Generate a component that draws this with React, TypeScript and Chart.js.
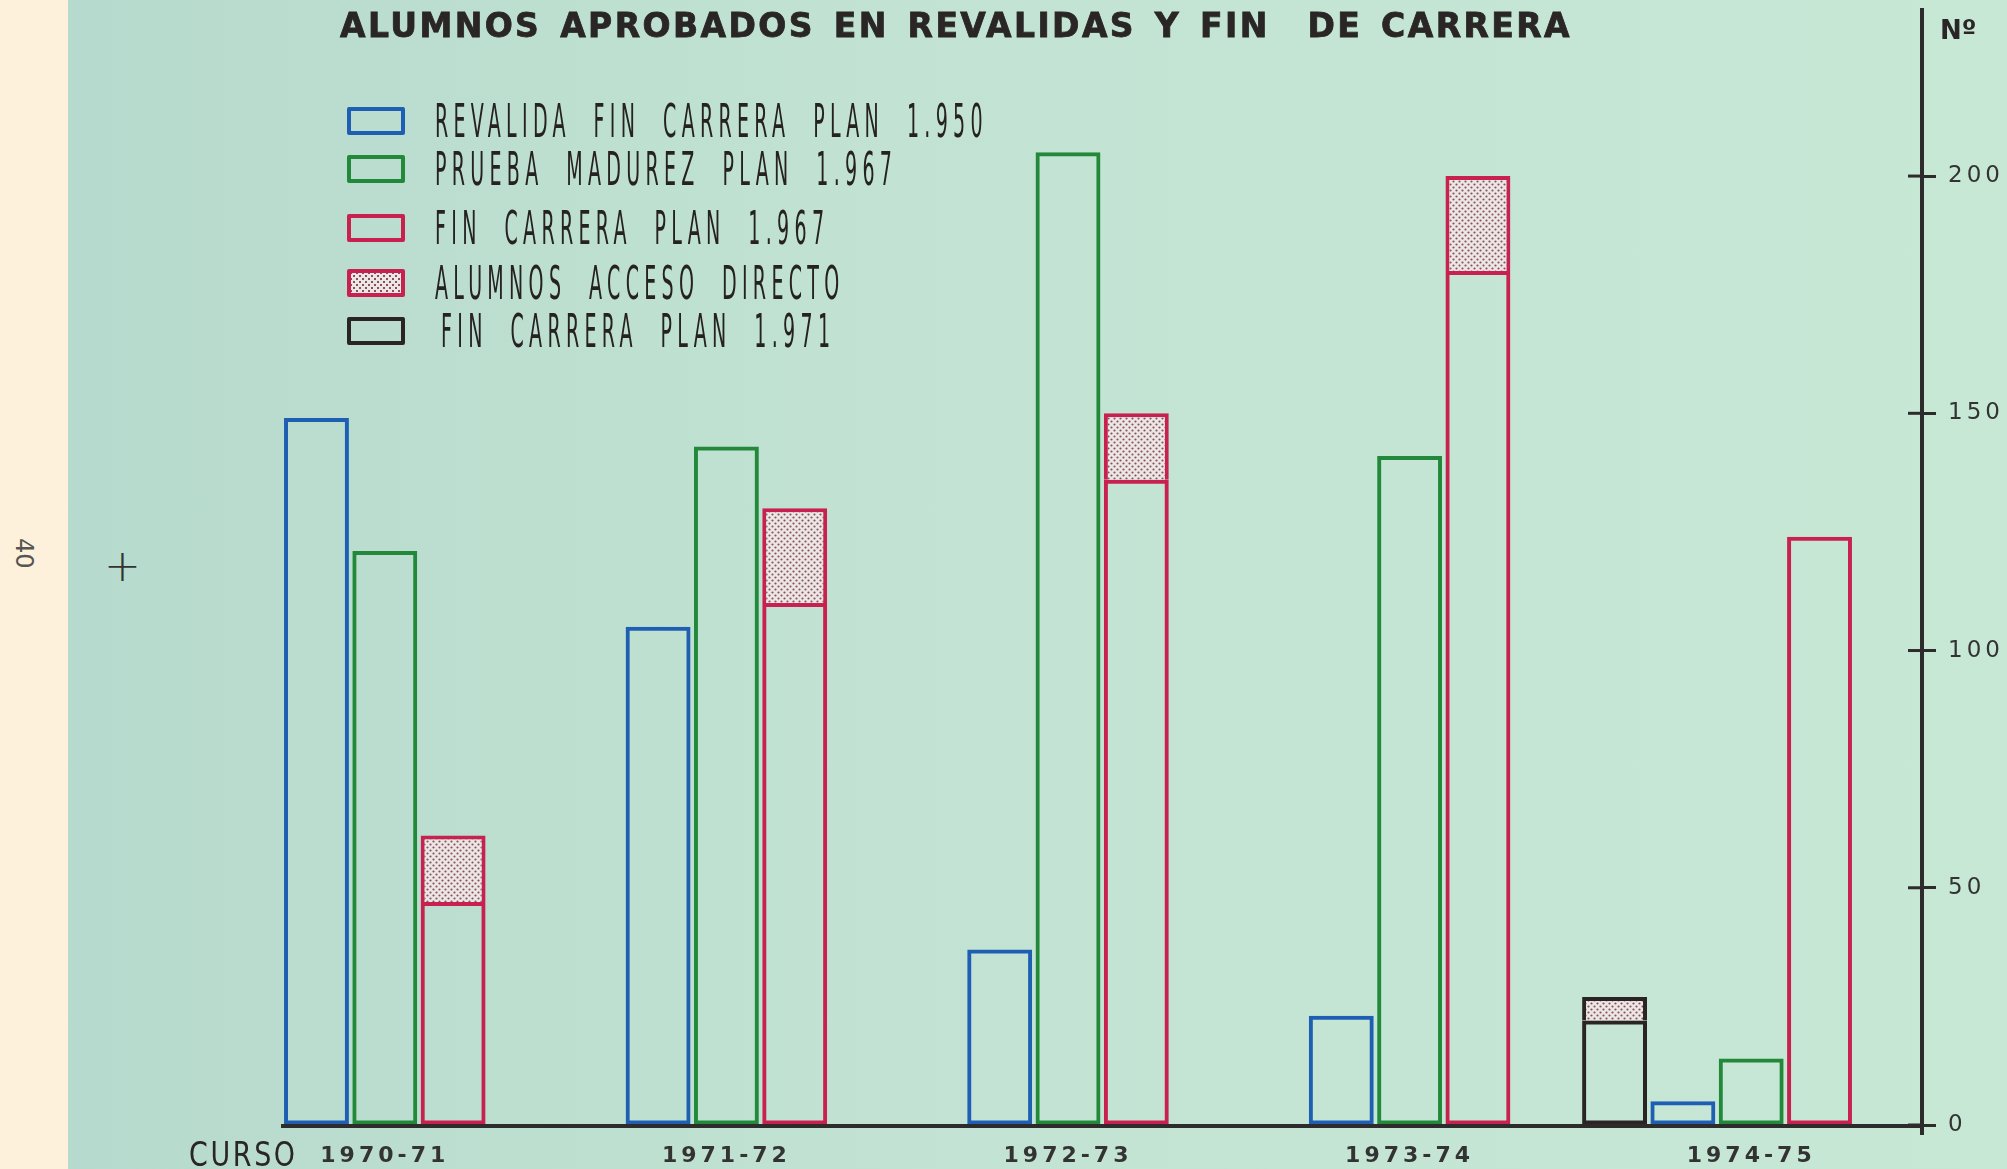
import React, { useEffect, useRef } from "react";
import { Chart, registerables } from "chart.js";

Chart.register(...registerables);

// ---------- data ----------
const categories = ["1970-71", "1971-72", "1972-73", "1973-74", "1974-75"];
const revalidaPlan1950 = [149, 105, 37, 23, 5];
const madurezPlan1967 = [121, 143, 205, 141, 14];
const finCarreraPlan1967 = [47, 110, 136, 180, 124];
const accesoDirecto1967 = [14, 20, 14, 20, null];
const finCarreraPlan1971 = [null, null, null, null, 22];
const accesoDirecto1971 = [null, null, null, null, 5];
const spacerSlot = [null, null, null, null, null];
const yTickValues = [0, 50, 100, 150, 200];

const legendLabels = [
  "REVALIDA FIN CARRERA PLAN 1.950",
  "PRUEBA MADUREZ PLAN 1.967",
  "FIN CARRERA PLAN 1.967",
  "ALUMNOS ACCESO DIRECTO",
  "FIN CARRERA PLAN 1.971",
];

const title = "ALUMNOS APROBADOS EN REVALIDAS Y FIN  DE CARRERA";

// ---------- styles ----------
const BLUE = "#1f5fb3";
const GREEN = "#22893a";
const RED = "#c8204f";
const BLACK = "#2b2424";
const AXIS = "#2d2b2b";
const legendColors = [BLUE, GREEN, RED, RED, BLACK];
const legendRowTops = [0, 48, 107, 162, 210];

function makePattern(): CanvasPattern | string {
  const c = document.createElement("canvas");
  c.width = 6;
  c.height = 6;
  const g = c.getContext("2d");
  if (!g) return "#ddd";
  g.fillStyle = "#ebe7e5";
  g.fillRect(0, 0, 6, 6);
  g.fillStyle = "#8c4d5e";
  g.beginPath();
  g.arc(1.5, 1.5, 1.1, 0, Math.PI * 2);
  g.arc(4.5, 4.5, 1.1, 0, Math.PI * 2);
  g.fill();
  const p = g.createPattern(c, "repeat");
  return p || "#ddd";
}

const cssPattern =
  "radial-gradient(circle, #8c4d5e 1.1px, transparent 1.5px) 0 0/6px 6px, radial-gradient(circle, #8c4d5e 1.1px, transparent 1.5px) 3px 3px/6px 6px, #ebe7e5";

const spacingPlugin = {
  id: "letterSpacing",
  beforeDraw(chart: any) {
    (chart.ctx as any).letterSpacing = "4px";
  },
  afterDraw(chart: any) {
    const ctx = chart.ctx;
    const area = chart.chartArea;
    const y = chart.scales.y;
    ctx.save();
    ctx.strokeStyle = AXIS;
    ctx.lineWidth = 3;
    y.ticks.forEach((t: any) => {
      const py = y.getPixelForValue(t.value);
      ctx.beginPath();
      ctx.moveTo(area.right - 14, py);
      ctx.lineTo(area.right, py);
      ctx.stroke();
    });
    const meta = chart.getDatasetMeta(1);
    const first = meta.data[0] as any;
    const startX = first ? first.x - first.width / 2 - 3 : area.left;
    const py0 = y.getPixelForValue(0);
    ctx.lineWidth = 4;
    ctx.beginPath();
    ctx.moveTo(startX, py0 + 1);
    ctx.lineTo(area.right, py0 + 1);
    ctx.stroke();
    ctx.beginPath();
    ctx.moveTo(area.right, py0);
    ctx.lineTo(area.right, py0 + 10);
    ctx.stroke();
    ctx.restore();
    (ctx as any).letterSpacing = "0px";
  },
};

export default function App() {
  const canvasRef = useRef<HTMLCanvasElement | null>(null);

  useEffect(() => {
    if (!canvasRef.current) return;
    const pattern = makePattern();
    const common = {
      backgroundColor: "rgba(0,0,0,0)",
      borderWidth: 4,
      borderSkipped: false as any,
      barPercentage: 0.95,
      categoryPercentage: 1,
    };
    const chart = new Chart(canvasRef.current, {
      type: "bar",
      data: {
        labels: categories,
        datasets: [
          { ...common, label: legendLabels[4], data: finCarreraPlan1971, borderColor: BLACK, stack: "a" },
          { ...common, label: legendLabels[0], data: revalidaPlan1950, borderColor: BLUE, stack: "b" },
          { ...common, label: legendLabels[1], data: madurezPlan1967, borderColor: GREEN, stack: "c" },
          { ...common, label: legendLabels[2], data: finCarreraPlan1967, borderColor: RED, stack: "d" },
          { ...common, label: legendLabels[3], data: accesoDirecto1967, borderColor: RED, backgroundColor: pattern as any, borderSkipped: "start", stack: "d" },
          { ...common, label: legendLabels[3] + " 1971", data: accesoDirecto1971, borderColor: BLACK, backgroundColor: pattern as any, borderSkipped: "start", stack: "a" },
          { ...common, label: "", data: spacerSlot, borderColor: "rgba(0,0,0,0)", stack: "e" },
        ] as any,
      },
      options: {
        animation: false,
        responsive: false,
        maintainAspectRatio: false,
        layout: { padding: { left: 214, top: 10, right: 0, bottom: 0 } },
        plugins: {
          legend: { display: false },
          title: { display: false },
          tooltip: { enabled: false },
        },
        scales: {
          x: {
            grid: { display: false, drawTicks: false },
            border: { display: false },
            ticks: {
              color: "#333",
              padding: 18,
              font: { family: "DejaVu Sans", size: 22, weight: "bold" },
            },
            afterFit: (s: any) => {
              s.height = 44;
              s.paddingLeft = 0;
              s.paddingRight = 0;
            },
          },
          y: {
            position: "right",
            stacked: true,
            min: 0,
            max: 235,
            grid: {
              drawOnChartArea: false,
              drawTicks: true,
              tickLength: 14,
              tickWidth: 3,
              tickColor: AXIS,
            },
            border: { display: true, color: AXIS, width: 4 },
            afterBuildTicks: (s: any) => {
              s.ticks = yTickValues.map((v) => ({ value: v }));
            },
            ticks: {
              color: "#333",
              padding: 12,
              font: { family: "DejaVu Sans", size: 23 },
            },
            afterFit: (s: any) => {
              s.width = 85;
              s.paddingTop = 0;
              s.paddingBottom = 0;
            },
          },
        },
      },
      plugins: [spacingPlugin],
    });
    return () => chart.destroy();
  }, []);

  const legendText: React.CSSProperties = {
    fontFamily: "'DejaVu Sans Condensed', 'DejaVu Sans'",
    fontSize: 46,
    lineHeight: "46px",
    color: "#262222",
    letterSpacing: "11.5px",
    wordSpacing: "25px",
    transform: "scaleX(0.46)",
    transformOrigin: "left center",
    whiteSpace: "pre",
    display: "inline-block",
  };

  return (
    <div
      style={{
        position: "absolute",
        left: 0,
        top: 0,
        width: 2007,
        height: 1169,
        overflow: "hidden",
        background: "linear-gradient(90deg, #fdf1db 0px, #fdf1db 68px, #b6dacd 68px, #c2e3d3 900px, #c8e8d6 2007px)",
      }}
    >
      <div
        style={{
          position: "absolute",
          left: 10,
          top: 538,
          fontFamily: "'DejaVu Sans'",
          fontSize: 24,
          color: "#555",
          transform: "rotate(90deg)",
          transformOrigin: "left top",
          marginLeft: 28,
        }}
      >
        40
      </div>
      <div
        style={{
          position: "absolute",
          left: 104,
          top: 544,
          fontFamily: "'DejaVu Sans'",
          fontWeight: 200,
          fontSize: 44,
          lineHeight: "44px",
          color: "#333",
        }}
      >
        +
      </div>
      <canvas ref={canvasRef} width={2007} height={1169} style={{ position: "absolute", left: 0, top: 0, width: 2007, height: 1169 }} />
      <div
        style={{
          position: "absolute",
          left: 340,
          top: 9,
          fontFamily: "'DejaVu Sans'",
          fontWeight: "bold",
          fontSize: 33,
          lineHeight: "33px",
          letterSpacing: "2.4px",
          wordSpacing: "5px",
          color: "#2a2626",
          whiteSpace: "pre",
          WebkitTextStroke: "0.8px #2a2626",
        }}
      >
        {title}
      </div>
      {legendLabels.map((lab, i) => (
        <div
          key={lab}
          style={{ position: "absolute", left: 347, top: 95 + legendRowTops[i], display: "flex", alignItems: "center", height: 52 }}
        >
          <div
            style={{
              width: 58,
              height: 28,
              boxSizing: "border-box",
              border: `4px solid ${legendColors[i]}`,
              borderRadius: 2,
              background: i === 3 ? cssPattern : "transparent",
              flex: "0 0 auto",
            }}
          />
          <span style={{ ...legendText, marginLeft: i === 4 ? 36 : 30 }}>{lab}</span>
        </div>
      ))}
      <div
        style={{
          position: "absolute",
          left: 189,
          top: 1137,
          fontFamily: "'DejaVu Sans Condensed', 'DejaVu Sans'",
          fontSize: 34,
          lineHeight: "34px",
          color: "#2a2626",
          letterSpacing: "3px",
          transform: "scaleX(0.88)",
          transformOrigin: "left center",
        }}
      >
        CURSO
      </div>
      <div
        style={{
          position: "absolute",
          left: 1940,
          top: 16,
          fontFamily: "'DejaVu Sans'",
          fontWeight: "bold",
          fontSize: 26,
          lineHeight: "28px",
          color: "#2a2626",
        }}
      >
        Nº
      </div>
    </div>
  );
}
